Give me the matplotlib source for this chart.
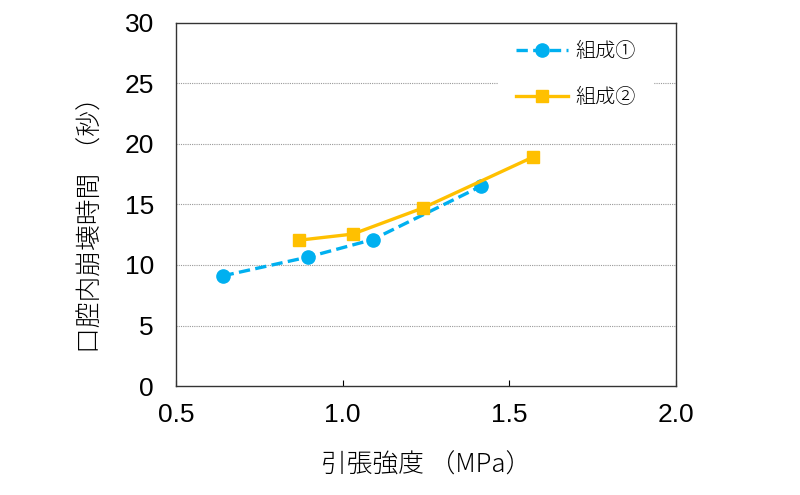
import matplotlib
matplotlib.use('Agg')
import matplotlib.pyplot as plt

# data
x_comp1 = [0.64, 0.895, 1.09, 1.415]
y_comp1 = [9.1, 10.65, 12.1, 16.5]
x_comp2 = [0.87, 1.03, 1.24, 1.57]
y_comp2 = [12.05, 12.55, 14.7, 18.9]
labels = ['組成①', '組成②']
x_ticks = [0.5, 1.0, 1.5, 2.0]
y_ticks = [0, 5, 10, 15, 20, 25, 30]

plt.rcParams['font.family'] = ['Liberation Sans', 'Noto Sans CJK JP', 'DejaVu Sans']

fig = plt.figure(figsize=(8, 4.95), dpi=100)
ax = fig.add_axes([0.22, 0.22, 0.625, 0.734])

for y in y_ticks[1:-1]:
    ax.axhline(y, color='#999999', linestyle=(0, (1, 1)), linewidth=0.8, zorder=1)

ax.plot(x_comp1, y_comp1, color='#00B0F0', linestyle=(0, (3.4, 1.6)), linewidth=2.4,
        marker='o', markersize=9.5, label=labels[0], zorder=3)
ax.plot(x_comp2, y_comp2, color='#FFC000', linestyle='-', linewidth=2.4,
        marker='s', markersize=8.5, label=labels[1], zorder=3)

ax.set_xlim(0.5, 2.0)
ax.set_ylim(0, 30)
ax.set_xticks(x_ticks)
ax.set_xticklabels([f'{t:.1f}' for t in x_ticks])
ax.set_yticks(y_ticks)
ax.tick_params(direction='in', length=4, labelsize=19, pad=12)
ax.tick_params(axis='y', length=0, pad=16)
for s in ax.spines.values():
    s.set_color('#333333')
    s.set_linewidth(1.0)

cjk_light = dict(family=['Noto Sans CJK JP'], weight='light')
ax.set_xlabel('引張強度 （MPa）', fontsize=18.5, labelpad=18, **cjk_light)
ax.set_ylabel('口腔内崩壊時間  （秒）', fontsize=18.5, labelpad=14, **cjk_light)
ax.yaxis.label.set_y(0.46)

leg = ax.legend(loc='upper left', bbox_to_anchor=(0.644, 1.0), borderaxespad=0,
                frameon=True, prop={'family': 'Noto Sans CJK JP', 'weight': 'light', 'size': 14.5},
                handlelength=2.6, handletextpad=0.35, labelspacing=1.25, borderpad=0.9)
leg.get_frame().set_edgecolor('none')
leg.get_frame().set_facecolor('white')
leg.get_frame().set_alpha(1.0)
leg.get_frame().set_boxstyle('square', pad=0)
leg.set_zorder(2)  # keep the frame under the axes spines

fig.savefig('out.png', dpi=100)
